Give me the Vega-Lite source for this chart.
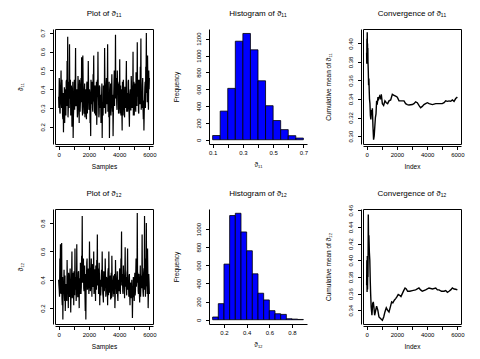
{
  "$schema": "https://vega.github.io/schema/vega-lite/v6.json",
  "padding": {"left": 17, "top": 9, "right": 4, "bottom": 4},
  "bounds": "flush",
  "columns": 3,
  "spacing": {"row": 65, "column": 56},
  "config": {
    "font": "Liberation Sans",
    "view": {"stroke": "black", "strokeWidth": 1},
    "axis": {
      "grid": false, "labelFont": "Liberation Sans", "titleFont": "Liberation Sans",
      "labelFontSize": 6, "titleFontSize": 6.5, "titleFontWeight": "normal",
      "labelColor": "black", "titleColor": "black", "tickColor": "black", "domainColor": "black",
      "tickSize": 3.5, "labelPadding": 2, "labelFlush": false, "labelOverlap": false
    },
    "axisX": {"titlePadding": 6},
    "axisY": {"labelAngle": -90, "labelAlign": "center", "labelBaseline": "bottom", "labelPadding": 4, "titlePadding": 16},
    "title": {"fontSize": 8, "fontWeight": "normal", "offset": 11, "frame": "group", "color": "black", "font": "Liberation Sans"}
  },
  "datasets": {
    "trace11": [
      {"sample":0,"value":0.36},{"sample":40,"value":0.46},{"sample":80,"value":0.28},{"sample":120,"value":0.42},{"sample":160,"value":0.50},{"sample":200,"value":0.30},{"sample":240,"value":0.38},{"sample":280,"value":0.24},{"sample":320,"value":0.17},{"sample":360,"value":0.33},
      {"sample":400,"value":0.22},{"sample":440,"value":0.40},{"sample":480,"value":0.26},{"sample":520,"value":0.45},{"sample":560,"value":0.55},{"sample":600,"value":0.68},{"sample":640,"value":0.30},{"sample":680,"value":0.44},{"sample":720,"value":0.64},{"sample":760,"value":0.35},
      {"sample":800,"value":0.26},{"sample":840,"value":0.42},{"sample":880,"value":0.20},{"sample":920,"value":0.35},{"sample":960,"value":0.14},{"sample":1000,"value":0.30},{"sample":1040,"value":0.45},{"sample":1080,"value":0.38},{"sample":1120,"value":0.62},{"sample":1160,"value":0.32},
      {"sample":1200,"value":0.40},{"sample":1240,"value":0.25},{"sample":1280,"value":0.47},{"sample":1320,"value":0.30},{"sample":1360,"value":0.22},{"sample":1400,"value":0.41},{"sample":1440,"value":0.33},{"sample":1480,"value":0.46},{"sample":1520,"value":0.57},{"sample":1560,"value":0.30},
      {"sample":1600,"value":0.58},{"sample":1640,"value":0.36},{"sample":1680,"value":0.27},{"sample":1720,"value":0.43},{"sample":1760,"value":0.31},{"sample":1800,"value":0.38},{"sample":1840,"value":0.24},{"sample":1880,"value":0.44},{"sample":1920,"value":0.35},{"sample":1960,"value":0.55},
      {"sample":2000,"value":0.29},{"sample":2040,"value":0.40},{"sample":2080,"value":0.22},{"sample":2120,"value":0.15},{"sample":2160,"value":0.36},{"sample":2200,"value":0.44},{"sample":2240,"value":0.30},{"sample":2280,"value":0.48},{"sample":2320,"value":0.58},{"sample":2360,"value":0.33},
      {"sample":2400,"value":0.42},{"sample":2440,"value":0.26},{"sample":2480,"value":0.37},{"sample":2520,"value":0.21},{"sample":2560,"value":0.45},{"sample":2600,"value":0.60},{"sample":2640,"value":0.34},{"sample":2680,"value":0.27},{"sample":2720,"value":0.41},{"sample":2760,"value":0.30},
      {"sample":2800,"value":0.22},{"sample":2840,"value":0.36},{"sample":2880,"value":0.14},{"sample":2920,"value":0.30},{"sample":2960,"value":0.42},{"sample":3000,"value":0.35},{"sample":3040,"value":0.62},{"sample":3080,"value":0.40},{"sample":3120,"value":0.28},{"sample":3160,"value":0.46},
      {"sample":3200,"value":0.36},{"sample":3240,"value":0.64},{"sample":3280,"value":0.38},{"sample":3320,"value":0.25},{"sample":3360,"value":0.14},{"sample":3400,"value":0.30},{"sample":3440,"value":0.43},{"sample":3480,"value":0.33},{"sample":3520,"value":0.48},{"sample":3560,"value":0.28},
      {"sample":3600,"value":0.15},{"sample":3640,"value":0.36},{"sample":3680,"value":0.50},{"sample":3720,"value":0.42},{"sample":3760,"value":0.69},{"sample":3800,"value":0.45},{"sample":3840,"value":0.32},{"sample":3880,"value":0.50},{"sample":3920,"value":0.38},{"sample":3960,"value":0.27},
      {"sample":4000,"value":0.44},{"sample":4040,"value":0.56},{"sample":4080,"value":0.34},{"sample":4120,"value":0.26},{"sample":4160,"value":0.40},{"sample":4200,"value":0.18},{"sample":4240,"value":0.31},{"sample":4280,"value":0.45},{"sample":4320,"value":0.34},{"sample":4360,"value":0.25},
      {"sample":4400,"value":0.41},{"sample":4440,"value":0.30},{"sample":4480,"value":0.55},{"sample":4520,"value":0.37},{"sample":4560,"value":0.28},{"sample":4600,"value":0.44},{"sample":4640,"value":0.32},{"sample":4680,"value":0.20},{"sample":4720,"value":0.38},{"sample":4760,"value":0.29},
      {"sample":4800,"value":0.47},{"sample":4840,"value":0.35},{"sample":4880,"value":0.42},{"sample":4920,"value":0.60},{"sample":4960,"value":0.33},{"sample":5000,"value":0.26},{"sample":5040,"value":0.43},{"sample":5080,"value":0.31},{"sample":5120,"value":0.49},{"sample":5160,"value":0.36},
      {"sample":5200,"value":0.65},{"sample":5240,"value":0.40},{"sample":5280,"value":0.28},{"sample":5320,"value":0.45},{"sample":5360,"value":0.34},{"sample":5400,"value":0.52},{"sample":5440,"value":0.67},{"sample":5480,"value":0.38},{"sample":5520,"value":0.30},{"sample":5560,"value":0.46},
      {"sample":5600,"value":0.24},{"sample":5640,"value":0.18},{"sample":5680,"value":0.35},{"sample":5720,"value":0.44},{"sample":5760,"value":0.52},{"sample":5800,"value":0.70},{"sample":5840,"value":0.42},{"sample":5880,"value":0.58},{"sample":5920,"value":0.35},{"sample":5960,"value":0.50},
      {"sample":6000,"value":0.46},
      {"sample":20,"value":0.30},{"sample":60,"value":0.43},{"sample":100,"value":0.27},{"sample":140,"value":0.40},{"sample":180,"value":0.33},{"sample":220,"value":0.45},{"sample":260,"value":0.26},{"sample":300,"value":0.38},{"sample":340,"value":0.29},{"sample":380,"value":0.41},
      {"sample":420,"value":0.34},{"sample":460,"value":0.28},{"sample":500,"value":0.44},{"sample":540,"value":0.31},{"sample":580,"value":0.39},{"sample":620,"value":0.25},{"sample":660,"value":0.42},{"sample":700,"value":0.30},{"sample":740,"value":0.36},{"sample":780,"value":0.45},
      {"sample":820,"value":0.27},{"sample":860,"value":0.40},{"sample":900,"value":0.32},{"sample":940,"value":0.44},{"sample":980,"value":0.26},{"sample":1020,"value":0.37},{"sample":1060,"value":0.29},{"sample":1100,"value":0.43},{"sample":1140,"value":0.31},{"sample":1180,"value":0.39},
      {"sample":1220,"value":0.35},{"sample":1260,"value":0.27},{"sample":1300,"value":0.42},{"sample":1340,"value":0.30},{"sample":1380,"value":0.45},{"sample":1420,"value":0.28},{"sample":1460,"value":0.38},{"sample":1500,"value":0.33},{"sample":1540,"value":0.41},{"sample":1580,"value":0.26},
      {"sample":1620,"value":0.44},{"sample":1660,"value":0.31},{"sample":1700,"value":0.37},{"sample":1740,"value":0.25},{"sample":1780,"value":0.40},{"sample":1820,"value":0.29},{"sample":1860,"value":0.43},{"sample":1900,"value":0.27},{"sample":1940,"value":0.36},{"sample":1980,"value":0.42},
      {"sample":2020,"value":0.30},{"sample":2060,"value":0.38},{"sample":2100,"value":0.26},{"sample":2140,"value":0.45},{"sample":2180,"value":0.32},{"sample":2220,"value":0.40},{"sample":2260,"value":0.28},{"sample":2300,"value":0.43},{"sample":2340,"value":0.34},{"sample":2380,"value":0.27},
      {"sample":2420,"value":0.41},{"sample":2460,"value":0.30},{"sample":2500,"value":0.44},{"sample":2540,"value":0.28},{"sample":2580,"value":0.36},{"sample":2620,"value":0.39},{"sample":2660,"value":0.25},{"sample":2700,"value":0.42},{"sample":2740,"value":0.31},{"sample":2780,"value":0.37},
      {"sample":2820,"value":0.29},{"sample":2860,"value":0.43},{"sample":2900,"value":0.33},{"sample":2940,"value":0.26},{"sample":2980,"value":0.40},{"sample":3020,"value":0.30},{"sample":3060,"value":0.45},{"sample":3100,"value":0.27},{"sample":3140,"value":0.38},{"sample":3180,"value":0.32},
      {"sample":3220,"value":0.42},{"sample":3260,"value":0.28},{"sample":3300,"value":0.36},{"sample":3340,"value":0.44},{"sample":3380,"value":0.30},{"sample":3420,"value":0.39},{"sample":3460,"value":0.26},{"sample":3500,"value":0.41},{"sample":3540,"value":0.33},{"sample":3580,"value":0.37},
      {"sample":3620,"value":0.27},{"sample":3660,"value":0.44},{"sample":3700,"value":0.31},{"sample":3740,"value":0.40},{"sample":3780,"value":0.35},{"sample":3820,"value":0.46},{"sample":3860,"value":0.29},{"sample":3900,"value":0.38},{"sample":3940,"value":0.43},{"sample":3980,"value":0.30},
      {"sample":4020,"value":0.37},{"sample":4060,"value":0.27},{"sample":4100,"value":0.42},{"sample":4140,"value":0.32},{"sample":4180,"value":0.28},{"sample":4220,"value":0.44},{"sample":4260,"value":0.26},{"sample":4300,"value":0.39},{"sample":4340,"value":0.30},{"sample":4380,"value":0.41},
      {"sample":4420,"value":0.34},{"sample":4460,"value":0.43},{"sample":4500,"value":0.28},{"sample":4540,"value":0.38},{"sample":4580,"value":0.31},{"sample":4620,"value":0.45},{"sample":4660,"value":0.27},{"sample":4700,"value":0.36},{"sample":4740,"value":0.40},{"sample":4780,"value":0.29},
      {"sample":4820,"value":0.42},{"sample":4860,"value":0.30},{"sample":4900,"value":0.37},{"sample":4940,"value":0.26},{"sample":4980,"value":0.44},{"sample":5020,"value":0.33},{"sample":5060,"value":0.39},{"sample":5100,"value":0.28},{"sample":5140,"value":0.41},{"sample":5180,"value":0.31},
      {"sample":5220,"value":0.36},{"sample":5260,"value":0.45},{"sample":5300,"value":0.27},{"sample":5340,"value":0.40},{"sample":5380,"value":0.32},{"sample":5420,"value":0.43},{"sample":5460,"value":0.29},{"sample":5500,"value":0.38},{"sample":5540,"value":0.42},{"sample":5580,"value":0.30},
      {"sample":5620,"value":0.34},{"sample":5660,"value":0.27},{"sample":5700,"value":0.41},{"sample":5740,"value":0.30},{"sample":5780,"value":0.45},{"sample":5820,"value":0.38},{"sample":5860,"value":0.33},{"sample":5900,"value":0.44},{"sample":5940,"value":0.29},{"sample":5980,"value":0.40}
    ],
    "trace12": [
      {"sample":0,"value":0.40},{"sample":40,"value":0.33},{"sample":80,"value":0.55},{"sample":120,"value":0.65},{"sample":160,"value":0.30},{"sample":200,"value":0.66},{"sample":240,"value":0.22},{"sample":280,"value":0.12},{"sample":320,"value":0.30},{"sample":360,"value":0.47},
      {"sample":400,"value":0.25},{"sample":440,"value":0.18},{"sample":480,"value":0.36},{"sample":520,"value":0.28},{"sample":560,"value":0.54},{"sample":600,"value":0.35},{"sample":640,"value":0.20},{"sample":680,"value":0.42},{"sample":720,"value":0.29},{"sample":760,"value":0.48},
      {"sample":800,"value":0.17},{"sample":840,"value":0.35},{"sample":880,"value":0.60},{"sample":920,"value":0.30},{"sample":960,"value":0.45},{"sample":1000,"value":0.22},{"sample":1040,"value":0.38},{"sample":1080,"value":0.62},{"sample":1120,"value":0.33},{"sample":1160,"value":0.25},
      {"sample":1200,"value":0.65},{"sample":1240,"value":0.40},{"sample":1280,"value":0.28},{"sample":1320,"value":0.46},{"sample":1360,"value":0.20},{"sample":1400,"value":0.36},{"sample":1440,"value":0.52},{"sample":1480,"value":0.30},{"sample":1520,"value":0.57},{"sample":1560,"value":0.85},
      {"sample":1600,"value":0.42},{"sample":1640,"value":0.55},{"sample":1680,"value":0.32},{"sample":1720,"value":0.50},{"sample":1760,"value":0.18},{"sample":1800,"value":0.12},{"sample":1840,"value":0.40},{"sample":1880,"value":0.55},{"sample":1920,"value":0.35},{"sample":1960,"value":0.48},
      {"sample":2000,"value":0.30},{"sample":2040,"value":0.67},{"sample":2080,"value":0.45},{"sample":2120,"value":0.36},{"sample":2160,"value":0.55},{"sample":2200,"value":0.28},{"sample":2240,"value":0.50},{"sample":2280,"value":0.38},{"sample":2320,"value":0.60},{"sample":2360,"value":0.33},
      {"sample":2400,"value":0.47},{"sample":2440,"value":0.25},{"sample":2480,"value":0.42},{"sample":2520,"value":0.54},{"sample":2560,"value":0.72},{"sample":2600,"value":0.38},{"sample":2640,"value":0.30},{"sample":2680,"value":0.52},{"sample":2720,"value":0.22},{"sample":2760,"value":0.40},
      {"sample":2800,"value":0.33},{"sample":2840,"value":0.47},{"sample":2880,"value":0.60},{"sample":2920,"value":0.30},{"sample":2960,"value":0.24},{"sample":3000,"value":0.45},{"sample":3040,"value":0.36},{"sample":3080,"value":0.55},{"sample":3120,"value":0.28},{"sample":3160,"value":0.42},
      {"sample":3200,"value":0.35},{"sample":3240,"value":0.22},{"sample":3280,"value":0.48},{"sample":3320,"value":0.60},{"sample":3360,"value":0.32},{"sample":3400,"value":0.40},{"sample":3440,"value":0.26},{"sample":3480,"value":0.45},{"sample":3520,"value":0.57},{"sample":3560,"value":0.35},
      {"sample":3600,"value":0.28},{"sample":3640,"value":0.43},{"sample":3680,"value":0.33},{"sample":3720,"value":0.20},{"sample":3760,"value":0.54},{"sample":3800,"value":0.38},{"sample":3840,"value":0.30},{"sample":3880,"value":0.46},{"sample":3920,"value":0.25},{"sample":3960,"value":0.40},
      {"sample":4000,"value":0.34},{"sample":4040,"value":0.48},{"sample":4080,"value":0.30},{"sample":4120,"value":0.55},{"sample":4160,"value":0.74},{"sample":4200,"value":0.40},{"sample":4240,"value":0.32},{"sample":4280,"value":0.50},{"sample":4320,"value":0.36},{"sample":4360,"value":0.27},
      {"sample":4400,"value":0.63},{"sample":4440,"value":0.42},{"sample":4480,"value":0.34},{"sample":4520,"value":0.45},{"sample":4560,"value":0.62},{"sample":4600,"value":0.38},{"sample":4640,"value":0.28},{"sample":4680,"value":0.44},{"sample":4720,"value":0.22},{"sample":4760,"value":0.35},
      {"sample":4800,"value":0.30},{"sample":4840,"value":0.40},{"sample":4880,"value":0.13},{"sample":4920,"value":0.28},{"sample":4960,"value":0.37},{"sample":5000,"value":0.25},{"sample":5040,"value":0.45},{"sample":5080,"value":0.32},{"sample":5120,"value":0.55},{"sample":5160,"value":0.40},
      {"sample":5200,"value":0.87},{"sample":5240,"value":0.45},{"sample":5280,"value":0.30},{"sample":5320,"value":0.38},{"sample":5360,"value":0.24},{"sample":5400,"value":0.50},{"sample":5440,"value":0.35},{"sample":5480,"value":0.42},{"sample":5520,"value":0.72},{"sample":5560,"value":0.36},
      {"sample":5600,"value":0.28},{"sample":5640,"value":0.48},{"sample":5680,"value":0.85},{"sample":5720,"value":0.40},{"sample":5760,"value":0.55},{"sample":5800,"value":0.80},{"sample":5840,"value":0.35},{"sample":5880,"value":0.62},{"sample":5920,"value":0.20},{"sample":5960,"value":0.44},
      {"sample":6000,"value":0.30},
      {"sample":20,"value":0.36},{"sample":60,"value":0.28},{"sample":100,"value":0.44},{"sample":140,"value":0.31},{"sample":180,"value":0.40},{"sample":220,"value":0.27},{"sample":260,"value":0.42},{"sample":300,"value":0.33},{"sample":340,"value":0.38},{"sample":380,"value":0.30},
      {"sample":420,"value":0.43},{"sample":460,"value":0.29},{"sample":500,"value":0.37},{"sample":540,"value":0.25},{"sample":580,"value":0.41},{"sample":620,"value":0.32},{"sample":660,"value":0.45},{"sample":700,"value":0.28},{"sample":740,"value":0.39},{"sample":780,"value":0.34},
      {"sample":820,"value":0.30},{"sample":860,"value":0.44},{"sample":900,"value":0.27},{"sample":940,"value":0.40},{"sample":980,"value":0.33},{"sample":1020,"value":0.46},{"sample":1060,"value":0.29},{"sample":1100,"value":0.38},{"sample":1140,"value":0.42},{"sample":1180,"value":0.31},
      {"sample":1220,"value":0.37},{"sample":1260,"value":0.28},{"sample":1300,"value":0.45},{"sample":1340,"value":0.33},{"sample":1380,"value":0.41},{"sample":1420,"value":0.30},{"sample":1460,"value":0.48},{"sample":1500,"value":0.35},{"sample":1540,"value":0.43},{"sample":1580,"value":0.38},
      {"sample":1620,"value":0.50},{"sample":1660,"value":0.34},{"sample":1700,"value":0.46},{"sample":1740,"value":0.30},{"sample":1780,"value":0.44},{"sample":1820,"value":0.38},{"sample":1860,"value":0.52},{"sample":1900,"value":0.33},{"sample":1940,"value":0.47},{"sample":1980,"value":0.40},
      {"sample":2020,"value":0.36},{"sample":2060,"value":0.49},{"sample":2100,"value":0.32},{"sample":2140,"value":0.45},{"sample":2180,"value":0.39},{"sample":2220,"value":0.51},{"sample":2260,"value":0.35},{"sample":2300,"value":0.43},{"sample":2340,"value":0.30},{"sample":2380,"value":0.47},
      {"sample":2420,"value":0.38},{"sample":2460,"value":0.50},{"sample":2500,"value":0.33},{"sample":2540,"value":0.44},{"sample":2580,"value":0.36},{"sample":2620,"value":0.48},{"sample":2660,"value":0.31},{"sample":2700,"value":0.42},{"sample":2740,"value":0.37},{"sample":2780,"value":0.29},
      {"sample":2820,"value":0.43},{"sample":2860,"value":0.35},{"sample":2900,"value":0.40},{"sample":2940,"value":0.28},{"sample":2980,"value":0.46},{"sample":3020,"value":0.32},{"sample":3060,"value":0.38},{"sample":3100,"value":0.44},{"sample":3140,"value":0.30},{"sample":3180,"value":0.41},
      {"sample":3220,"value":0.34},{"sample":3260,"value":0.45},{"sample":3300,"value":0.29},{"sample":3340,"value":0.39},{"sample":3380,"value":0.31},{"sample":3420,"value":0.43},{"sample":3460,"value":0.36},{"sample":3500,"value":0.27},{"sample":3540,"value":0.41},{"sample":3580,"value":0.33},
      {"sample":3620,"value":0.38},{"sample":3660,"value":0.30},{"sample":3700,"value":0.44},{"sample":3740,"value":0.28},{"sample":3780,"value":0.40},{"sample":3820,"value":0.35},{"sample":3860,"value":0.42},{"sample":3900,"value":0.29},{"sample":3940,"value":0.37},{"sample":3980,"value":0.32},
      {"sample":4020,"value":0.45},{"sample":4060,"value":0.33},{"sample":4100,"value":0.40},{"sample":4140,"value":0.48},{"sample":4180,"value":0.36},{"sample":4220,"value":0.44},{"sample":4260,"value":0.30},{"sample":4300,"value":0.42},{"sample":4340,"value":0.38},{"sample":4380,"value":0.46},
      {"sample":4420,"value":0.35},{"sample":4460,"value":0.41},{"sample":4500,"value":0.29},{"sample":4540,"value":0.47},{"sample":4580,"value":0.33},{"sample":4620,"value":0.39},{"sample":4660,"value":0.43},{"sample":4700,"value":0.30},{"sample":4740,"value":0.38},{"sample":4780,"value":0.27},
      {"sample":4820,"value":0.36},{"sample":4860,"value":0.31},{"sample":4900,"value":0.28},{"sample":4940,"value":0.42},{"sample":4980,"value":0.33},{"sample":5020,"value":0.40},{"sample":5060,"value":0.29},{"sample":5100,"value":0.44},{"sample":5140,"value":0.35},{"sample":5180,"value":0.38},
      {"sample":5220,"value":0.41},{"sample":5260,"value":0.32},{"sample":5300,"value":0.44},{"sample":5340,"value":0.30},{"sample":5380,"value":0.37},{"sample":5420,"value":0.28},{"sample":5460,"value":0.43},{"sample":5500,"value":0.34},{"sample":5540,"value":0.40},{"sample":5580,"value":0.31},
      {"sample":5620,"value":0.45},{"sample":5660,"value":0.33},{"sample":5700,"value":0.39},{"sample":5740,"value":0.28},{"sample":5780,"value":0.42},{"sample":5820,"value":0.36},{"sample":5860,"value":0.30},{"sample":5900,"value":0.44},{"sample":5940,"value":0.32},{"sample":5980,"value":0.38}
    ],
    "hist11": [
      {"lo":0.10,"hi":0.15,"count":50},{"lo":0.15,"hi":0.20,"count":340},{"lo":0.20,"hi":0.25,"count":610},{"lo":0.25,"hi":0.30,"count":1170},
      {"lo":0.30,"hi":0.35,"count":1262},{"lo":0.35,"hi":0.40,"count":1068},{"lo":0.40,"hi":0.45,"count":700},{"lo":0.45,"hi":0.50,"count":404},
      {"lo":0.50,"hi":0.55,"count":228},{"lo":0.55,"hi":0.60,"count":120},{"lo":0.60,"hi":0.65,"count":48},{"lo":0.65,"hi":0.70,"count":20}
    ],
    "hist12": [
      {"lo":0.10,"hi":0.15,"count":30},{"lo":0.15,"hi":0.20,"count":177},{"lo":0.20,"hi":0.25,"count":613},{"lo":0.25,"hi":0.30,"count":1148},
      {"lo":0.30,"hi":0.35,"count":1173},{"lo":0.35,"hi":0.40,"count":967},{"lo":0.40,"hi":0.45,"count":760},{"lo":0.45,"hi":0.50,"count":506},
      {"lo":0.50,"hi":0.55,"count":292},{"lo":0.55,"hi":0.60,"count":218},{"lo":0.60,"hi":0.65,"count":100},{"lo":0.65,"hi":0.70,"count":66},
      {"lo":0.70,"hi":0.75,"count":59},{"lo":0.75,"hi":0.80,"count":11},{"lo":0.80,"hi":0.85,"count":7},{"lo":0.85,"hi":0.90,"count":3}
    ],
    "conv11": [
      {"index":1,"value":0.39},{"index":10,"value":0.378},{"index":20,"value":0.405},{"index":30,"value":0.38},{"index":40,"value":0.412},{"index":50,"value":0.39},{"index":60,"value":0.40},{"index":70,"value":0.378},{"index":80,"value":0.395},{"index":90,"value":0.38},
      {"index":110,"value":0.37},{"index":130,"value":0.355},{"index":150,"value":0.362},{"index":170,"value":0.35},{"index":190,"value":0.34},{"index":220,"value":0.335},{"index":250,"value":0.322},{"index":280,"value":0.318},{"index":320,"value":0.328},{"index":350,"value":0.325},
      {"index":380,"value":0.33},{"index":420,"value":0.31},{"index":460,"value":0.296},{"index":500,"value":0.300},{"index":540,"value":0.31},{"index":580,"value":0.32},{"index":620,"value":0.324},{"index":660,"value":0.338},{"index":700,"value":0.334},{"index":750,"value":0.342},
      {"index":800,"value":0.34},{"index":860,"value":0.343},{"index":920,"value":0.341},{"index":970,"value":0.345},{"index":1040,"value":0.335},{"index":1125,"value":0.333},{"index":1210,"value":0.338},{"index":1300,"value":0.336},{"index":1390,"value":0.335},{"index":1480,"value":0.338},
      {"index":1590,"value":0.339},{"index":1700,"value":0.345},{"index":1810,"value":0.344},{"index":1920,"value":0.343},{"index":2030,"value":0.342},{"index":2140,"value":0.338},{"index":2250,"value":0.338},{"index":2360,"value":0.338},{"index":2470,"value":0.338},{"index":2580,"value":0.335},
      {"index":2690,"value":0.334},{"index":2800,"value":0.3335},{"index":3020,"value":0.334},{"index":3130,"value":0.335},{"index":3240,"value":0.337},{"index":3350,"value":0.336},{"index":3460,"value":0.333},{"index":3570,"value":0.3305},{"index":3680,"value":0.332},{"index":3790,"value":0.334},
      {"index":3900,"value":0.335},{"index":4015,"value":0.336},{"index":4130,"value":0.335},{"index":4350,"value":0.334},{"index":4570,"value":0.335},{"index":4790,"value":0.335},{"index":5000,"value":0.335},{"index":5120,"value":0.336},{"index":5230,"value":0.338},{"index":5340,"value":0.3375},
      {"index":5450,"value":0.338},{"index":5560,"value":0.3375},{"index":5670,"value":0.339},{"index":5780,"value":0.3375},{"index":5890,"value":0.3405},{"index":6000,"value":0.342}
    ],
    "conv12": [
      {"index":1,"value":0.37},{"index":15,"value":0.40},{"index":30,"value":0.362},{"index":45,"value":0.405},{"index":60,"value":0.365},{"index":75,"value":0.395},{"index":90,"value":0.38},{"index":110,"value":0.455},{"index":130,"value":0.42},{"index":150,"value":0.43},
      {"index":180,"value":0.41},{"index":210,"value":0.40},{"index":240,"value":0.375},{"index":265,"value":0.36},{"index":300,"value":0.344},{"index":350,"value":0.334},{"index":400,"value":0.348},{"index":440,"value":0.35},{"index":480,"value":0.344},{"index":530,"value":0.334},
      {"index":600,"value":0.34},{"index":660,"value":0.345},{"index":740,"value":0.34},{"index":815,"value":0.332},{"index":920,"value":0.33},{"index":1040,"value":0.328},{"index":1130,"value":0.332},{"index":1210,"value":0.338},{"index":1300,"value":0.343},{"index":1390,"value":0.34},
      {"index":1480,"value":0.338},{"index":1570,"value":0.344},{"index":1655,"value":0.35},{"index":1740,"value":0.349},{"index":1830,"value":0.352},{"index":1920,"value":0.354},{"index":2000,"value":0.356},{"index":2090,"value":0.359},{"index":2180,"value":0.358},{"index":2270,"value":0.3565},
      {"index":2360,"value":0.36},{"index":2450,"value":0.3635},{"index":2540,"value":0.3667},{"index":2620,"value":0.3655},{"index":2710,"value":0.3628},{"index":2860,"value":0.3628},{"index":3020,"value":0.3636},{"index":3240,"value":0.3644},{"index":3460,"value":0.3667},{"index":3570,"value":0.3644},
      {"index":3680,"value":0.3628},{"index":3900,"value":0.3644},{"index":4125,"value":0.3667},{"index":4350,"value":0.3655},{"index":4570,"value":0.3667},{"index":4680,"value":0.3644},{"index":4790,"value":0.3644},{"index":4950,"value":0.3628},{"index":5120,"value":0.3628},{"index":5230,"value":0.3636},
      {"index":5340,"value":0.3616},{"index":5450,"value":0.3628},{"index":5560,"value":0.3644},{"index":5670,"value":0.3667},{"index":5780,"value":0.3655},{"index":5890,"value":0.3652},{"index":6000,"value":0.3644}
    ]
  },
  "concat": [
    {
      "width": 98, "height": 115,
      "title": "Plot of ϑ₁₁",
      "data": {"name": "trace11"},
      "mark": {"type": "line", "color": "black", "strokeWidth": 1.2},
      "encoding": {
        "x": {"field": "sample", "type": "quantitative", "scale": {"domain": [-240, 6240], "nice": false, "zero": false},
              "axis": {"title": "Samples", "values": [0,1000,2000,3000,4000,5000,6000], "format": "d", "labelExpr": "datum.value % 2000 === 0 ? datum.label : ''", "offset": 2}},
        "y": {"field": "value", "type": "quantitative", "scale": {"domain": [0.108, 0.721], "nice": false, "zero": false},
              "axis": {"title": "ϑ₁₁", "values": [0.2,0.3,0.4,0.5,0.6,0.7], "format": ".1f", "offset": 2}}
      }
    },
    {
      "width": 98, "height": 115,
      "title": "Histogram of ϑ₁₁",
      "view": {"stroke": null},
      "data": {"name": "hist11"},
      "mark": {"type": "bar", "fill": "#0000FF", "stroke": "black", "strokeWidth": 0.8},
      "encoding": {
        "x": {"field": "lo", "type": "quantitative", "scale": {"domain": [0.076, 0.724], "nice": false, "zero": false},
              "axis": {"title": "ϑ₁₁", "values": [0.1,0.2,0.3,0.4,0.5,0.6,0.7], "format": ".1f", "labelExpr": "(datum.label == '0.1' || datum.label == '0.3' || datum.label == '0.5' || datum.label == '0.7') ? datum.label : ''"}},
        "x2": {"field": "hi"},
        "y": {"field": "count", "type": "quantitative", "scale": {"domain": [-50.6, 1315], "nice": false, "zero": false},
              "axis": {"title": "Frequency", "values": [0,200,400,600,800,1000,1200], "format": "d"}},
        "y2": {"datum": 0}
      }
    },
    {
      "width": 98, "height": 115,
      "title": "Convergence of ϑ₁₁",
      "data": {"name": "conv11"},
      "mark": {"type": "line", "color": "black", "strokeWidth": 1.4},
      "encoding": {
        "x": {"field": "index", "type": "quantitative", "scale": {"domain": [-240, 6240], "nice": false, "zero": false},
              "axis": {"title": "Index", "values": [0,1000,2000,3000,4000,5000,6000], "format": "d", "labelExpr": "datum.value % 2000 === 0 ? datum.label : ''", "offset": 2}},
        "y": {"field": "value", "type": "quantitative", "scale": {"domain": [0.2914, 0.4156], "nice": false, "zero": false},
              "axis": {"title": "Cumulative mean of ϑ₁₁", "values": [0.30,0.32,0.34,0.36,0.38,0.40], "format": ".2f", "offset": 2}}
      }
    },
    {
      "width": 98, "height": 115,
      "title": "Plot of ϑ₁₂",
      "data": {"name": "trace12"},
      "mark": {"type": "line", "color": "black", "strokeWidth": 1.2},
      "encoding": {
        "x": {"field": "sample", "type": "quantitative", "scale": {"domain": [-240, 6240], "nice": false, "zero": false},
              "axis": {"title": "Samples", "values": [0,1000,2000,3000,4000,5000,6000], "format": "d", "labelExpr": "datum.value % 2000 === 0 ? datum.label : ''", "offset": 2}},
        "y": {"field": "value", "type": "quantitative", "scale": {"domain": [0.088, 0.899], "nice": false, "zero": false},
              "axis": {"title": "ϑ₁₂", "values": [0.2,0.4,0.6,0.8], "format": ".1f", "offset": 2}}
      }
    },
    {
      "width": 98, "height": 115,
      "title": "Histogram of ϑ₁₂",
      "view": {"stroke": null},
      "data": {"name": "hist12"},
      "mark": {"type": "bar", "fill": "#0000FF", "stroke": "black", "strokeWidth": 0.8},
      "encoding": {
        "x": {"field": "lo", "type": "quantitative", "scale": {"domain": [0.068, 0.932], "nice": false, "zero": false},
              "axis": {"title": "ϑ₁₂", "values": [0.2,0.4,0.6,0.8], "format": ".1f"}},
        "x2": {"field": "hi"},
        "y": {"field": "count", "type": "quantitative", "scale": {"domain": [-47, 1220], "nice": false, "zero": false},
              "axis": {"title": "Frequency", "values": [0,200,400,600,800,1000], "format": "d"}},
        "y2": {"datum": 0}
      }
    },
    {
      "width": 98, "height": 115,
      "title": {"text": "Convergence of ϑ₁₂", "dy": 5},
      "data": {"name": "conv12"},
      "mark": {"type": "line", "color": "black", "strokeWidth": 1.4},
      "encoding": {
        "x": {"field": "index", "type": "quantitative", "scale": {"domain": [-240, 6240], "nice": false, "zero": false},
              "axis": {"title": "Index", "values": [0,1000,2000,3000,4000,5000,6000], "format": "d", "labelExpr": "datum.value % 2000 === 0 ? datum.label : ''", "offset": 2}},
        "y": {"field": "value", "type": "quantitative", "scale": {"domain": [0.3235, 0.4615], "nice": false, "zero": false},
              "axis": {"title": "Cumulative mean of ϑ₁₂", "values": [0.34,0.36,0.38,0.40,0.42,0.44,0.46], "format": ".2f", "offset": 2}}
      }
    }
  ]
}
